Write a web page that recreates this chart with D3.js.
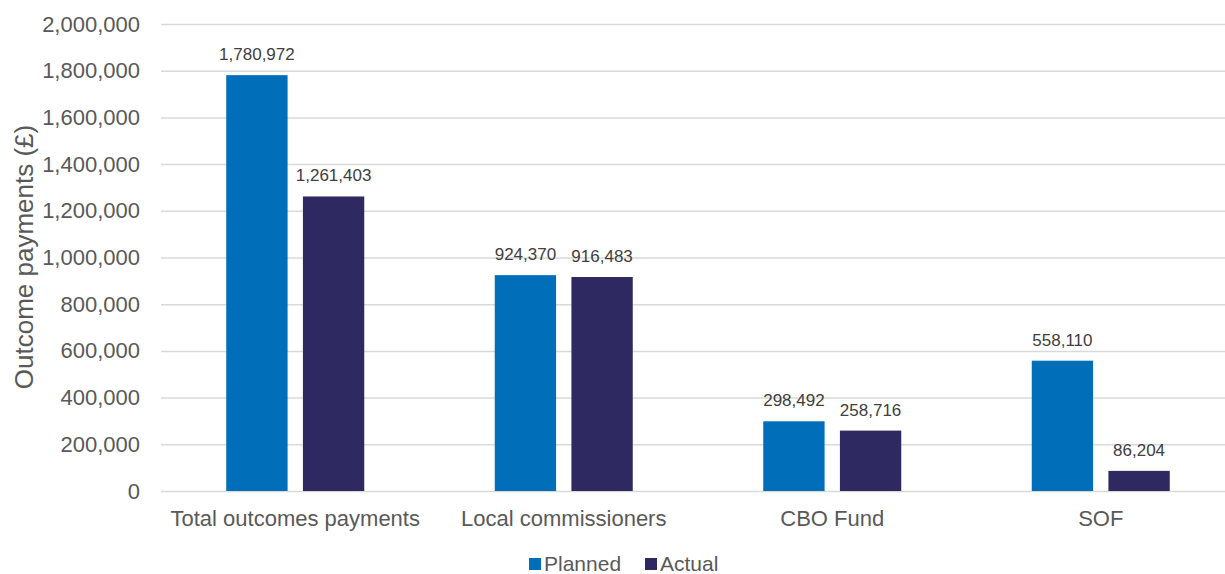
<!DOCTYPE html>
<html>
<head>
<meta charset="utf-8">
<script src="https://cdn.jsdelivr.net/npm/d3@7"></script>
<style>
  body { margin: 0; background: #fff; }
  svg { font-family: "Liberation Sans", Arial, sans-serif; }
</style>
</head>
<body>
<svg id="chart"></svg>
<script>
// chart data
var categories = ["Total outcomes payments", "Local commissioners", "CBO Fund", "SOF"];
var seriesNames = ["Planned", "Actual"];
var planned = [1780972, 924370, 298492, 558110];
var actual = [1261403, 916483, 258716, 86204];
var yTicks = [0, 200000, 400000, 600000, 800000, 1000000, 1200000, 1400000, 1600000, 1800000, 2000000];

var width = 1225, height = 574;
var margin = {top: 24, bottom: 83, left: 161};
var colors = ["#006EB9", "#2E2961"];

var svg = d3.select("#chart")
  .attr("width", width)
  .attr("height", height);

var y = d3.scaleLinear()
  .domain([0, 2000000])
  .range([height - margin.bottom, margin.top]);

// the category bands run slightly past the right edge, like the source
var x0 = d3.scaleBand()
  .domain(categories)
  .range([margin.left, 1235]);

var x1 = d3.scaleBand()
  .domain(seriesNames)
  .range([0, 138])
  .paddingInner(0.2);

var fmt = d3.format(",");

// gridlines + tick labels
var yAxis = svg.append("g")
  .attr("transform", "translate(" + margin.left + ",0)")
  .call(d3.axisLeft(y).tickValues(yTicks).tickFormat(fmt).tickSize(-(width - margin.left)).tickPadding(21));
yAxis.select(".domain").remove();
yAxis.selectAll("line").attr("stroke", "#d9d9d9").attr("stroke-width", 1.5);
yAxis.selectAll("text").attr("fill", "#595959").style("font-size", "22px");

var rows = categories.map(function(c, i) {
  return {cat: c, vals: [planned[i], actual[i]]};
});

var groups = svg.selectAll(".grp")
  .data(rows)
  .enter().append("g")
  .attr("class", "grp")
  .attr("transform", function(d) {
    return "translate(" + (x0(d.cat) + x0.bandwidth() / 2 - 69) + ",0)";
  });

groups.selectAll("rect")
  .data(function(d) { return d.vals.map(function(v, j) { return {name: seriesNames[j], v: v, j: j}; }); })
  .enter().append("rect")
  .attr("x", function(d) { return x1(d.name); })
  .attr("width", x1.bandwidth())
  .attr("y", function(d) { return y(d.v); })
  .attr("height", function(d) { return y(0) - y(d.v); })
  .attr("fill", function(d) { return colors[d.j]; });

groups.selectAll(".lbl")
  .data(function(d) { return d.vals.map(function(v, j) { return {name: seriesNames[j], v: v}; }); })
  .enter().append("text")
  .attr("class", "lbl")
  .attr("x", function(d) { return x1(d.name) + x1.bandwidth() / 2; })
  .attr("y", function(d) { return y(d.v) - 15; })
  .attr("text-anchor", "middle")
  .attr("fill", "#404040")
  .style("font-size", "17px")
  .text(function(d) { return fmt(d.v); });

// category labels
svg.append("g").selectAll("text")
  .data(categories)
  .enter().append("text")
  .attr("x", function(d) { return x0(d) + x0.bandwidth() / 2; })
  .attr("y", 526)
  .attr("text-anchor", "middle")
  .attr("fill", "#595959")
  .style("font-size", "22px")
  .text(function(d) { return d; });

// y axis title
svg.append("text")
  .attr("transform", "translate(33,257) rotate(-90)")
  .attr("text-anchor", "middle")
  .attr("fill", "#595959")
  .style("font-size", "26px")
  .text("Outcome payments (£)");

// legend
var legend = svg.append("g").attr("transform", "translate(529,571)");
var legendX = [0, 116];
seriesNames.forEach(function(n, i) {
  legend.append("rect")
    .attr("x", legendX[i])
    .attr("y", -13)
    .attr("width", 12)
    .attr("height", 12)
    .attr("fill", colors[i]);
  legend.append("text")
    .attr("x", legendX[i] + 15)
    .attr("y", 0)
    .attr("fill", "#595959")
    .style("font-size", "21px")
    .text(n);
});
</script>
</body>
</html>
